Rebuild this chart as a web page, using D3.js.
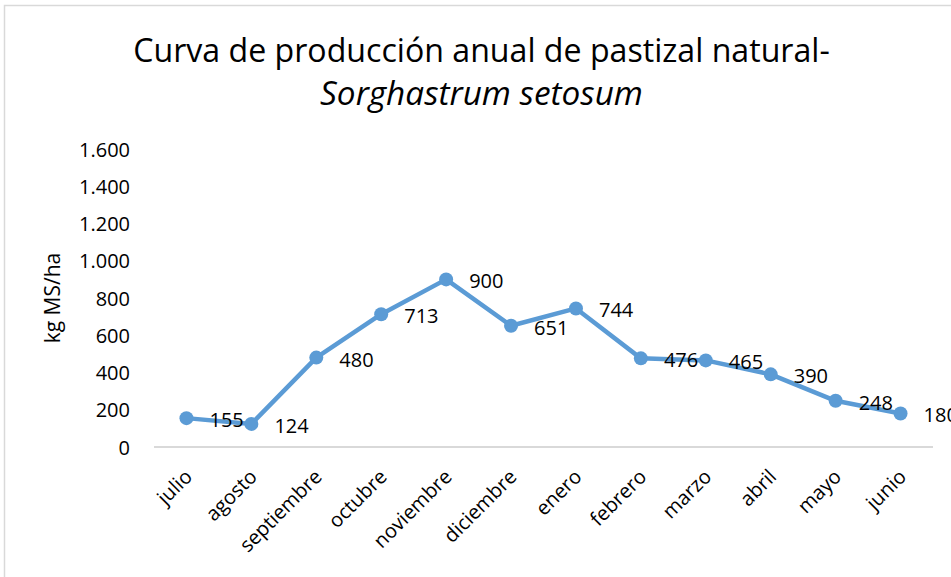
<!DOCTYPE html>
<html>
<head>
<meta charset="utf-8">
<script src="https://cdn.jsdelivr.net/npm/d3@7"></script>
<style>
  html, body { margin: 0; padding: 0; background: #ffffff; }
  svg { display: block; }
  text { font-family: "Open Sans", "Noto Sans", sans-serif; fill: #000; }
</style>
</head>
<body>
<svg id="chart" width="951" height="577"></svg>
<script>
const months = ["julio","agosto","septiembre","octubre","noviembre","diciembre","enero","febrero","marzo","abril","mayo","junio"];
const production = [155,124,480,713,900,651,744,476,465,390,248,180];
const yTicks = [0,200,400,600,800,1000,1200,1400,1600];
const titleLine1 = "Curva de producción anual de pastizal natural-";
const titleLine2 = "Sorghastrum setosum";
const yTitle = "kg MS/ha";

const svg = d3.select("#chart");
const W = 951, H = 577;
const plot = { left: 154, right: 933, top: 149, bottom: 447 };

// outer chart frame (partially visible)
svg.append("path")
  .attr("d", `M4.5,${H} L4.5,5.5 L${W},5.5`)
  .attr("fill", "none").attr("stroke", "#d9d9d9").attr("stroke-width", 1.5);

const x = d3.scaleBand().domain(months).range([plot.left, plot.right]).paddingInner(0).paddingOuter(0);
const y = d3.scaleLinear().domain([0, 1600]).range([plot.bottom, plot.top]);
const fmt = d3.formatLocale({ decimal: ",", thousands: ".", grouping: [3], currency: ["", ""] }).format(",d");

// Title
function fitText(sel, target) {
  const len = sel.node().getComputedTextLength();
  const fs = parseFloat(sel.attr("font-size"));
  sel.attr("font-size", fs * target / len);
}
const t1 = svg.append("text").attr("x", 481.5).attr("y", 62).attr("text-anchor", "middle")
  .attr("font-size", 30).text(titleLine1);
fitText(t1, 697);
const t2 = svg.append("text").attr("x", 481.5).attr("y", 105).attr("text-anchor", "middle")
  .attr("font-size", 30).attr("font-style", "italic").text(titleLine2);
fitText(t2, 323);

// Y axis (labels only)
const yAxis = d3.axisLeft(y).tickValues(yTicks).tickFormat(fmt).tickSize(0).tickPadding(0);
const gy = svg.append("g").attr("transform", "translate(130,0)").call(yAxis);
gy.select(".domain").remove();
gy.selectAll("text").attr("font-size", 20).attr("font-family", "Open Sans").attr("fill", "#000").attr("dy", "0.35em");

// X axis line + labels
const xAxis = d3.axisBottom(x).tickSize(0).tickPadding(0);
const gx = svg.append("g").attr("transform", `translate(0,${plot.bottom})`).call(xAxis);
gx.select(".domain").attr("stroke", "#d9d9d9").attr("stroke-width", 2)
  .attr("d", `M${plot.left},0H${plot.right}`);
gx.selectAll(".tick text")
  .attr("font-size", 20).attr("font-family", "Open Sans").attr("fill", "#000")
  .attr("text-anchor", "end")
  .attr("dy", "0.35em")
  .attr("y", 0)
  .attr("transform", "translate(2,26) rotate(-45)");

// Y axis title
svg.append("text").attr("transform", "translate(60,298) rotate(-90)")
  .attr("text-anchor", "middle").attr("font-size", 21).text(yTitle);

// Line
const cx = d => x(d) + x.bandwidth() / 2;
const line = d3.line().x((d, i) => cx(months[i])).y(d => y(d));
svg.append("path").datum(production)
  .attr("fill", "none").attr("stroke", "#5b9bd5").attr("stroke-width", 4.5)
  .attr("stroke-linejoin", "round").attr("d", line);

svg.selectAll("circle.pt").data(production).enter().append("circle")
  .attr("class", "pt")
  .attr("cx", (d, i) => cx(months[i])).attr("cy", d => y(d)).attr("r", 7)
  .attr("fill", "#5b9bd5");

// Data labels (right of marker)
svg.selectAll("text.lbl").data(production).enter().append("text")
  .attr("class", "lbl")
  .attr("x", (d, i) => cx(months[i]) + 23).attr("y", d => y(d) + 2)
  .attr("dy", "0.35em").attr("font-size", 20)
  .text(d => fmt(d));
</script>
</body>
</html>
